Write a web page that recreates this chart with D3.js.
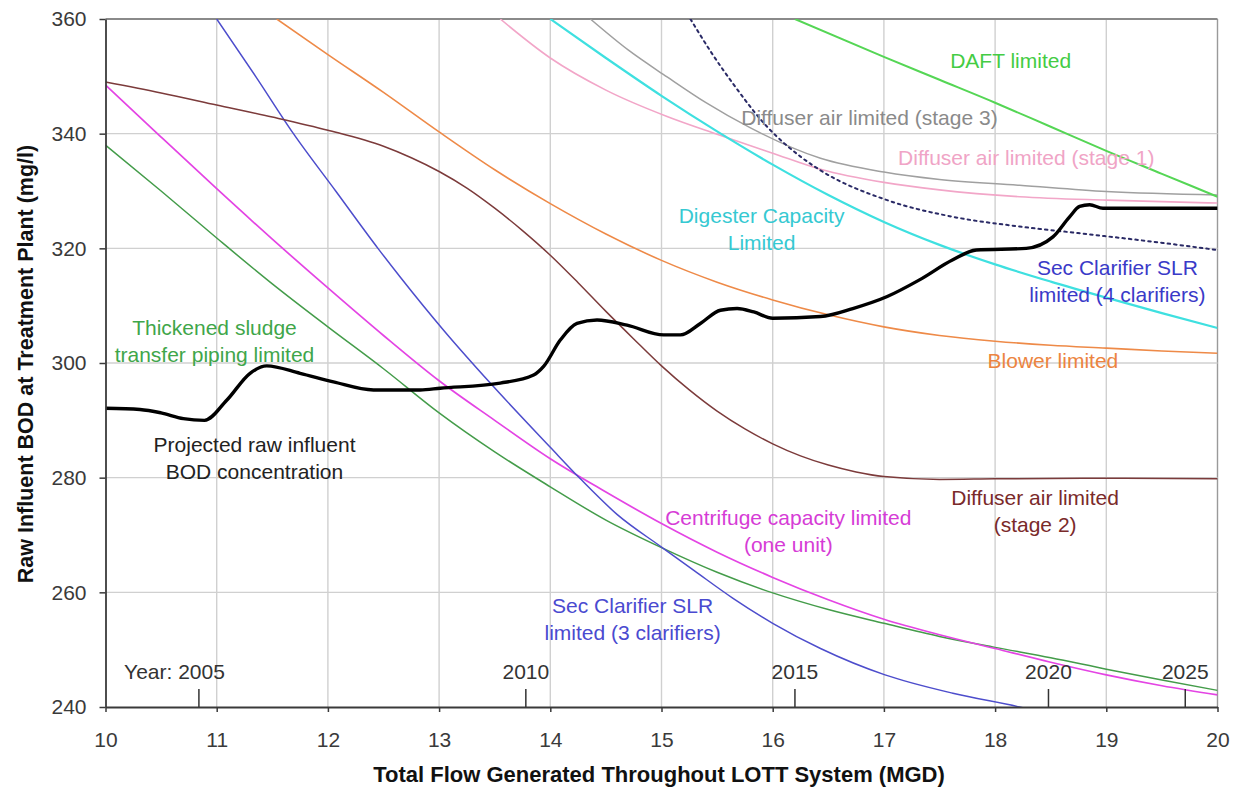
<!DOCTYPE html>
<html>
<head>
<meta charset="utf-8">
<script src="https://cdn.jsdelivr.net/npm/d3@7"></script>
<style>
  body { margin: 0; background: #fff; }
  svg { display: block; font-family: "Liberation Sans", Arial, sans-serif; }
</style>
</head>
<body>
<svg id="chart" width="1238" height="789"></svg>
<script>
// ---- Axis ticks ----
const flowTicks = [10, 11, 12, 13, 14, 15, 16, 17, 18, 19, 20];
const bodTicks = [240, 260, 280, 300, 320, 340, 360];

// ---- Year markers along the flow axis ----
const yearLabels = ["2005", "2010", "2015", "2020", "2025"];
const yearFlows = [10.84, 13.78, 16.20, 18.48, 19.71];

// ---- Capacity limit curves: [flow MGD, BOD mg/l] ----
const secClarifier3 = [[11.0,360],[11.35,350],[11.69,340],[12.07,330],[12.45,320],[12.65,315],[13.05,305.5],[13.46,296.5],[14.0,285.3],[14.27,279.8],[14.6,273.6],[15.0,267.9],[15.3,263.7],[15.64,259.0],[16.0,254.6],[16.43,250.2],[17.01,245.6],[17.62,242.4],[18.22,240],[18.4,239.2]];
const thickenedSludge = [[10,338],[10.5,330],[11,321.8],[11.5,313.8],[12,306.3],[12.5,299],[13,291.3],[13.5,284.5],[14,278.4],[14.5,272.6],[15,267.8],[15.5,263.5],[16,259.9],[16.5,257],[17,254.6],[17.5,252.3],[18,250.4],[18.5,248.6],[19,246.6],[19.5,244.7],[20,242.9]];
const centrifuge = [[10,348.5],[10.5,339.4],[11,330.4],[11.5,321.6],[12,313.1],[12.5,304.8],[13,296.9],[13.5,290.0],[14,283.3],[14.5,277.5],[15,272.0],[15.5,267.0],[16,262.6],[16.5,258.7],[17,255.3],[17.5,252.6],[18,250.2],[18.5,247.8],[19,245.6],[19.5,243.7],[20,242.1]];
const diffuserStage2 = [[10,349],[10.5,347.1],[11,345],[11.5,342.9],[12,340.6],[12.5,337.8],[12.75,335.8],[13,333.4],[13.25,330.5],[13.5,327],[13.75,323.1],[14,318.8],[14.25,314],[14.5,309],[14.75,304.2],[15,299.5],[15.25,295.3],[15.5,291.6],[15.75,288.5],[16,285.9],[16.25,283.8],[16.5,282.2],[16.75,281],[17,280.2],[17.5,279.7],[18,279.8],[19,279.9],[20,279.8]];
const blower = [[11.54,360],[12,353.8],[12.5,347.2],[13,340.3],[13.5,333.7],[14,327.8],[14.5,322.5],[15,317.9],[15.5,314.1],[16,311],[16.5,308.4],[17,306.3],[17.5,304.8],[18,303.8],[18.5,303.1],[19,302.6],[19.5,302.1],[20,301.7]];
const digester = [[14.0,360],[14.5,353.2],[15.0,346.6],[15.5,340.4],[16.0,334.6],[16.5,329.3],[17.0,324.6],[17.5,320.6],[18.0,317.2],[18.5,314.2],[19.0,311.4],[19.5,308.7],[20.0,306.1]];
const diffuserStage1 = [[13.55,360],[14.0,353.2],[14.5,347.6],[15.05,343],[15.5,339.9],[16,336.6],[16.43,333.8],[17,331.5],[17.5,330.2],[18.22,329],[19,328.4],[20,327.9]];
const diffuserStage3 = [[14.36,360],[14.7,354.6],[15.05,349.9],[15.4,345.4],[15.8,341.0],[16.43,335.7],[17,333.3],[17.5,332],[18.22,331],[19,329.9],[20,329.3]];
const daft = [[16.2,360],[17,353.4],[17.5,349.4],[18,345.4],[18.5,341.2],[19,337],[19.5,333],[20,329]];
const secClarifier4 = [[15.26,360],[15.45,354.1],[15.64,348.8],[15.95,341.2],[16.25,336],[16.43,333.6],[17.03,328.4],[17.62,325.5],[18.22,323.8],[18.82,322.5],[19.4,321.2],[20,319.7]];

// ---- Projected raw influent BOD ----
const projectedBOD = [[10.0,292.1],[10.31,291.9],[10.5,291.3],[10.70,290.3],[10.89,290.0],[11.09,293.5],[11.30,298.2],[11.45,299.5],[11.75,298.2],[12.05,296.7],[12.41,295.3],[12.83,295.3],[13.01,295.6],[13.55,296.5],[13.85,297.9],[13.94,299.4],[14.09,304.0],[14.24,306.9],[14.42,307.5],[14.69,306.6],[15.02,304.9],[15.17,304.9],[15.35,306.9],[15.53,309.2],[15.68,309.5],[15.83,308.9],[16.0,307.8],[16.43,308.1],[16.72,309.5],[17.03,311.6],[17.32,314.5],[17.62,318.0],[17.83,319.7],[18.28,320.0],[18.52,322.0],[18.67,325.5],[18.76,327.3],[18.85,327.6],[18.97,327.0],[20.0,327.0]];

// ---- Drawing ----
const svg = d3.select("#chart");
const plot = { left: 105.5, right: 1217.5, top: 19, bottom: 707 };

const x = d3.scaleLinear().domain([10, 20]).range([plot.left, plot.right]);
const y = d3.scaleLinear().domain([240, 360]).range([plot.bottom, plot.top]);

svg.append("defs").append("clipPath").attr("id", "plotClip")
  .append("rect")
  .attr("x", plot.left).attr("y", plot.top)
  .attr("width", plot.right - plot.left).attr("height", plot.bottom - plot.top);

// gridlines
const grid = svg.append("g").attr("class", "grid");
grid.selectAll("line.v").data(flowTicks.slice(1)).join("line")
  .attr("x1", d => x(d)).attr("x2", d => x(d))
  .attr("y1", plot.top).attr("y2", plot.bottom)
  .attr("stroke", d => d === 20 ? "#9a9a9a" : "#d0d0d0").attr("stroke-width", 1.4);
grid.selectAll("line.h").data(bodTicks.slice(1)).join("line")
  .attr("x1", plot.left).attr("x2", plot.right)
  .attr("y1", d => y(d)).attr("y2", d => y(d))
  .attr("stroke", d => d === 360 ? "#8a8a8a" : "#d0d0d0").attr("stroke-width", d => d === 360 ? 1.8 : 1.4);

// limit curves
const series = [
  { data: thickenedSludge, color: "#449c4a", width: 1.5 },
  { data: centrifuge,      color: "#e444e4", width: 1.7 },
  { data: secClarifier3,   color: "#4d4dcc", width: 1.5 },
  { data: diffuserStage2,  color: "#7c3b3b", width: 1.5 },
  { data: blower,          color: "#ee8a48", width: 1.6 },
  { data: diffuserStage1,  color: "#f2a6c8", width: 1.6 },
  { data: diffuserStage3,  color: "#a0a0a0", width: 1.5 },
  { data: digester,        color: "#3fe0e0", width: 2.2 },
  { data: daft,            color: "#55d655", width: 2.0 },
  { data: secClarifier4,   color: "#2a2a66", width: 2.0, dash: "2.5,4" }
];

const line = d3.line()
  .x(d => x(d[0])).y(d => y(d[1]))
  .curve(d3.curveMonotoneX);

const curves = svg.append("g").attr("clip-path", "url(#plotClip)");
curves.selectAll("path.limit").data(series).join("path")
  .attr("class", "limit")
  .attr("d", d => line(d.data))
  .attr("fill", "none")
  .attr("stroke", d => d.color)
  .attr("stroke-width", d => d.width)
  .attr("stroke-dasharray", d => d.dash || null)
  .attr("stroke-linecap", d => d.dash ? "round" : "butt");

curves.append("path")
  .attr("d", line(projectedBOD))
  .attr("fill", "none")
  .attr("stroke", "#000")
  .attr("stroke-width", 3.4)
  .attr("stroke-linejoin", "round");

// axes
const yAxis = svg.append("g")
  .attr("transform", `translate(${plot.left},0)`)
  .call(d3.axisLeft(y).tickValues(bodTicks).tickSize(6).tickPadding(13).tickSizeOuter(0));
const xAxis = svg.append("g")
  .attr("transform", `translate(0,${plot.bottom})`)
  .call(d3.axisBottom(x).tickValues(flowTicks).tickSize(5).tickPadding(20).tickSizeOuter(0));

[yAxis, xAxis].forEach(a => {
  a.select(".domain").attr("stroke", "#3a3a3a").attr("stroke-width", 1.8);
  a.selectAll(".tick line").attr("stroke", "#3a3a3a").attr("stroke-width", 1.5);
  a.selectAll(".tick text")
    .attr("fill", "#3a3a3a")
    .style("font-family", "'Liberation Sans', Arial, sans-serif")
    .style("font-size", "21px");
});

// year markers
const years = svg.append("g");
years.selectAll("line").data(yearFlows).join("line")
  .attr("x1", d => x(d)).attr("x2", d => x(d))
  .attr("y1", 689).attr("y2", plot.bottom)
  .attr("stroke", "#333").attr("stroke-width", 1.5);
years.selectAll("text").data(yearLabels).join("text")
  .attr("x", (d, i) => i === 0 ? x(yearFlows[i]) + 26 : x(yearFlows[i]))
  .attr("y", 679)
  .attr("text-anchor", (d, i) => i === 0 ? "end" : "middle")
  .attr("fill", "#333")
  .style("font-size", "21px")
  .text((d, i) => i === 0 ? "Year: " + d : d);

// curve annotations (anchored in data units)
const annotations = [
  { lines: ["DAFT limited"], at: [18.14, 351.45], color: "#44cc44" },
  { lines: ["Diffuser air limited (stage 3)"], at: [16.87, 341.5], color: "#8a8a8a" },
  { lines: ["Diffuser air limited (stage 1)"], at: [18.28, 334.5], color: "#f0a4c6" },
  { lines: ["Digester Capacity", "Limited"], at: [15.90, 324.4], color: "#36c9d2" },
  { lines: ["Sec Clarifier SLR", "limited (4 clarifiers)"], at: [19.10, 315.3], color: "#3a3ac8" },
  { lines: ["Blower limited"], at: [18.52, 299.1], color: "#ec8440" },
  { lines: ["Diffuser air limited", "(stage 2)"], at: [18.36, 275.2], color: "#7a2a2a" },
  { lines: ["Centrifuge capacity limited", "(one unit)"], at: [16.14, 271.7], color: "#d63cd6" },
  { lines: ["Sec Clarifier SLR", "limited (3 clarifiers)"], at: [14.74, 256.4], color: "#4a4ad0" },
  { lines: ["Thickened sludge", "transfer piping limited"], at: [10.98, 304.9], color: "#3fa64a" },
  { lines: ["Projected raw influent", "BOD concentration"], at: [11.34, 284.5], color: "#222" }
];

const notes = svg.append("g");
annotations.forEach(a => {
  const t = notes.append("text")
    .attr("x", x(a.at[0])).attr("y", y(a.at[1]))
    .attr("text-anchor", "middle")
    .attr("fill", a.color)
    .style("font-size", "21px");
  a.lines.forEach((s, i) => {
    t.append("tspan").attr("x", x(a.at[0])).attr("dy", i === 0 ? 0 : 27).text(s);
  });
});

// axis titles
svg.append("text")
  .attr("x", 659).attr("y", 782)
  .attr("text-anchor", "middle")
  .attr("fill", "#111")
  .style("font-weight", "bold").style("font-size", "22px")
  .text("Total Flow Generated Throughout LOTT System (MGD)");

svg.append("text")
  .attr("transform", "translate(33,364) rotate(-90)")
  .attr("text-anchor", "middle")
  .attr("fill", "#111")
  .style("font-weight", "bold").style("font-size", "21.5px")
  .text("Raw Influent BOD at Treatment Plant (mg/l)");
</script>
</body>
</html>
